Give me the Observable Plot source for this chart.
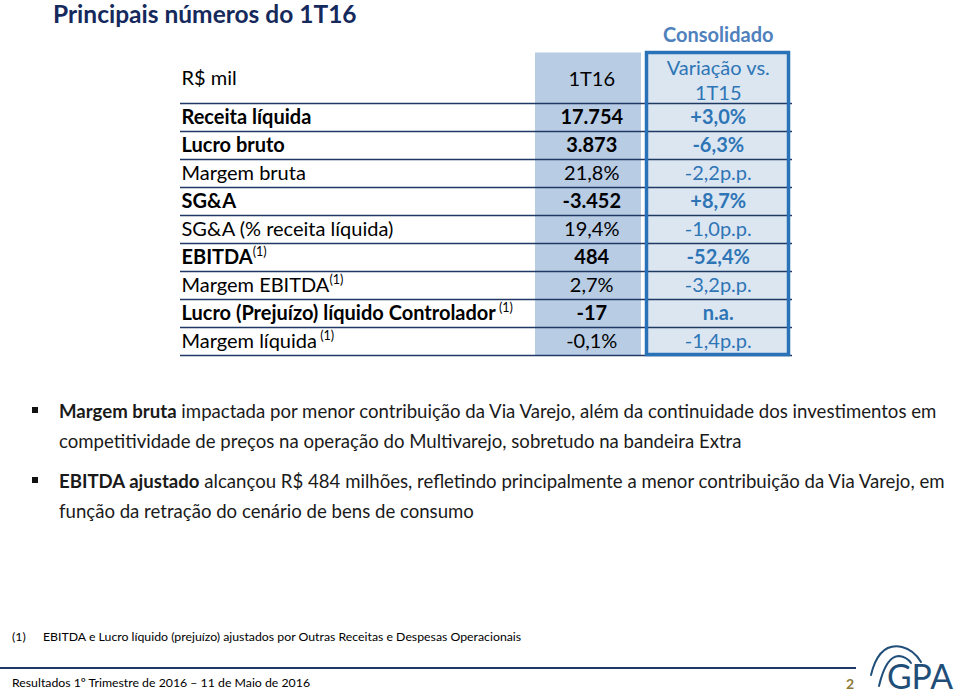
<!DOCTYPE html>
<html>
<head>
<meta charset="utf-8">
<script src="https://cdn.jsdelivr.net/npm/d3@7"></script>
<script src="https://cdn.jsdelivr.net/npm/@observablehq/plot@0.6"></script>
<style>
  html, body { margin: 0; padding: 0; background: #fff; }
  body { width: 960px; height: 698px; position: relative; overflow: hidden; font-family: Lato, "Open Sans", sans-serif; }
  .abs { position: absolute; white-space: nowrap; }
  #title { left: 53px; top: -1px; font-size: 24.5px; font-weight: bold; color: #15295c; }
  #chart { position: absolute; left: 0; top: 0; }
  .para { left: 59px; font-size: 18.6px; line-height: 30px; color: #1a1a1a; }
  .bullet { width: 6px; height: 6px; background: #111; }
  #foot { left: 12px; top: 629px; font-size: 12.3px; color: #000; }
  #footer { left: 12px; top: 675px; font-size: 12.3px; color: #000; }
  #pnum { left: 846px; top: 675px; font-size: 14px; font-weight: bold; color: #8f7a3a; }
  #hline { left: 0; top: 667px; width: 856px; height: 2px; background: #1f3864; }
</style>
</head>
<body>
<div id="title" class="abs">Principais números do 1T16</div>
<div id="chart"></div>

<div class="abs bullet" style="left:32px; top:407px"></div>
<div class="abs para" style="top:396px"><b>Margem bruta</b> impactada por menor contribuição da Via Varejo, além da continuidade dos investimentos em<br>competitividade de preços na operação do Multivarejo, sobretudo na bandeira Extra</div>
<div class="abs bullet" style="left:32px; top:477px"></div>
<div class="abs para" style="top:466px"><b>EBITDA ajustado</b> alcançou R$ 484 milhões, refletindo principalmente a menor contribuição da Via Varejo, em<br>função da retração do cenário de bens de consumo</div>

<div id="foot" class="abs"><span style="display:inline-block;width:31px">(1)</span>EBITDA e Lucro líquido (prejuízo) ajustados por Outras Receitas e Despesas Operacionais</div>
<div id="hline" class="abs"></div>
<div id="footer" class="abs">Resultados 1º Trimestre de 2016 – 11 de Maio de 2016</div>
<div id="pnum" class="abs">2</div>
<svg class="abs" style="left:850px; top:636px" width="110" height="62" viewBox="850 636 110 62">
  <g fill="none" stroke="#1f4e79" stroke-width="2" stroke-linecap="round">
    <path d="M 871 675 Q 879 642 902 647 Q 914 650 921 662"/>
    <path d="M 879 686 Q 886 656 899 656 Q 907 657 911 663"/>
  </g>
  <text x="887" y="689" font-family="Lato, sans-serif" font-size="35" fill="#1f4e79" textLength="66" lengthAdjust="spacingAndGlyphs">GPA</text>
</svg>

<script>
// ---- data ----
const rowLabels = [
  "Receita líquida",
  "Lucro bruto",
  "Margem bruta",
  "SG&A",
  "SG&A (% receita líquida)",
  "EBITDA",
  "Margem EBITDA",
  "Lucro (Prejuízo) líquido Controlador",
  "Margem líquida"
];
const valores1T16 = ["17.754", "3.873", "21,8%", "-3.452", "19,4%", "484", "2,7%", "-17", "-0,1%"];
const variacao = ["+3,0%", "-6,3%", "-2,2p.p.", "+8,7%", "-1,0p.p.", "-52,4%", "-3,2p.p.", "n.a.", "-1,4p.p."];
const negrito = [true, true, false, true, false, true, false, true, false];
const notas = ["", "", "", "", "", "(1)", "(1)", " (1)", " (1)"];
const colunas = ["1T16", "Variação vs.\n1T15"];
const unidade = "R$ mil";
const grupo = "Consolidado";

const rows = rowLabels.map((label, i) => ({
  label, v1: valores1T16[i], v2: variacao[i], bold: negrito[i], nota: notas[i]
}));
const boldRows = rows.filter(d => d.bold);
const normRows = rows.filter(d => !d.bold);

const navy = "#1f3864", blue = "#2e75b6", shade = "#b8cce4", light = "#dce6f1";

const chart = Plot.plot({
  width: 960,
  height: 370,
  marginTop: 103,
  marginBottom: 15,
  marginLeft: 180,
  marginRight: 168,
  x: {type: "band", domain: colunas, range: [528, 781], padding: 0, round: false, axis: null},
  y: {type: "band", domain: rowLabels, padding: 0, round: false, axis: null},
  style: {fontFamily: "Lato, 'Open Sans', sans-serif", fontSize: "20px", background: "transparent", color: "#000", overflow: "visible"},
  marks: [
    // 1T16 column shading (header + rows)
    Plot.cell([rowLabels[0]], {x: () => colunas[0], y: d => d, fill: shade, insetTop: -50.5, insetBottom: 28, insetLeft: 7, insetRight: 13.5}),
    Plot.cell(rows, {x: () => colunas[0], y: "label", fill: shade, insetLeft: 7, insetRight: 13.5}),
    // Variação column fill (header + rows)
    Plot.cell([rowLabels[0]], {x: () => colunas[1], y: d => d, fill: light, insetTop: -50.5, insetBottom: 28, insetLeft: -8, insetRight: -7.5}),
    Plot.cell(rows, {x: () => colunas[1], y: "label", fill: light, insetLeft: -8, insetRight: -7.5}),
    // row separators
    Plot.ruleY([rowLabels[0]], {y: d => d, dy: -14, stroke: navy, strokeWidth: 1.5}),
    Plot.ruleY(rows, {y: "label", dy: 14, stroke: navy, strokeWidth: 1.5}),
    // header texts
    Plot.text([unidade], {frameAnchor: "top-left", text: d => d, textAnchor: "start", lineAnchor: "middle", dx: 1, dy: -25, fill: "#000"}),
    Plot.text([colunas[0]], {x: d => d, text: d => d, frameAnchor: "top", lineAnchor: "middle", dy: -24, fill: "#000"}),
    Plot.text([colunas[1]], {x: d => d, text: d => d, frameAnchor: "top", lineAnchor: "middle", lineHeight: 1.25, dy: -24.5, fill: blue}),
    Plot.text([grupo], {x: () => colunas[1], text: d => d, frameAnchor: "top", lineAnchor: "middle", dy: -68, fill: "#4f81bd", fontWeight: "bold", fontSize: 20}),
    // row labels
    Plot.text(boldRows, {y: "label", text: "label", frameAnchor: "left", textAnchor: "start", dx: 1, fontWeight: "bold", fill: "#000"}),
    Plot.text(normRows, {y: "label", text: "label", frameAnchor: "left", textAnchor: "start", dx: 1, fill: "#000"}),
    // 1T16 values
    Plot.text(boldRows, {x: () => colunas[0], y: "label", text: "v1", fontWeight: "bold", fill: "#000"}),
    Plot.text(normRows, {x: () => colunas[0], y: "label", text: "v1", fill: "#000"}),
    // variação values
    Plot.text(boldRows, {x: () => colunas[1], y: "label", text: "v2", fontWeight: "bold", fill: blue}),
    Plot.text(normRows, {x: () => colunas[1], y: "label", text: "v2", fill: blue}),
    // Variação column border
    Plot.cell([rowLabels[0]], {x: () => colunas[1], y: d => d, fill: "none", stroke: "#2a72b8", strokeWidth: 3.5, insetTop: -50.5, insetBottom: -223.5, insetLeft: -8, insetRight: -7.5})
  ]
});

// superscript footnote markers on the row labels
const notaPorRotulo = new Map(rows.filter(d => d.nota).map(d => [d.label, d.nota]));
chart.querySelectorAll("text").forEach(t => {
  const nota = notaPorRotulo.get(t.textContent);
  if (nota) {
    const ts = document.createElementNS("http://www.w3.org/2000/svg", "tspan");
    ts.setAttribute("font-size", "12.5");
    ts.setAttribute("font-weight", "normal");
    ts.setAttribute("dy", "-8");
    ts.textContent = nota;
    t.appendChild(ts);
  }
});

document.getElementById("chart").appendChild(chart);
</script>
</body>
</html>
